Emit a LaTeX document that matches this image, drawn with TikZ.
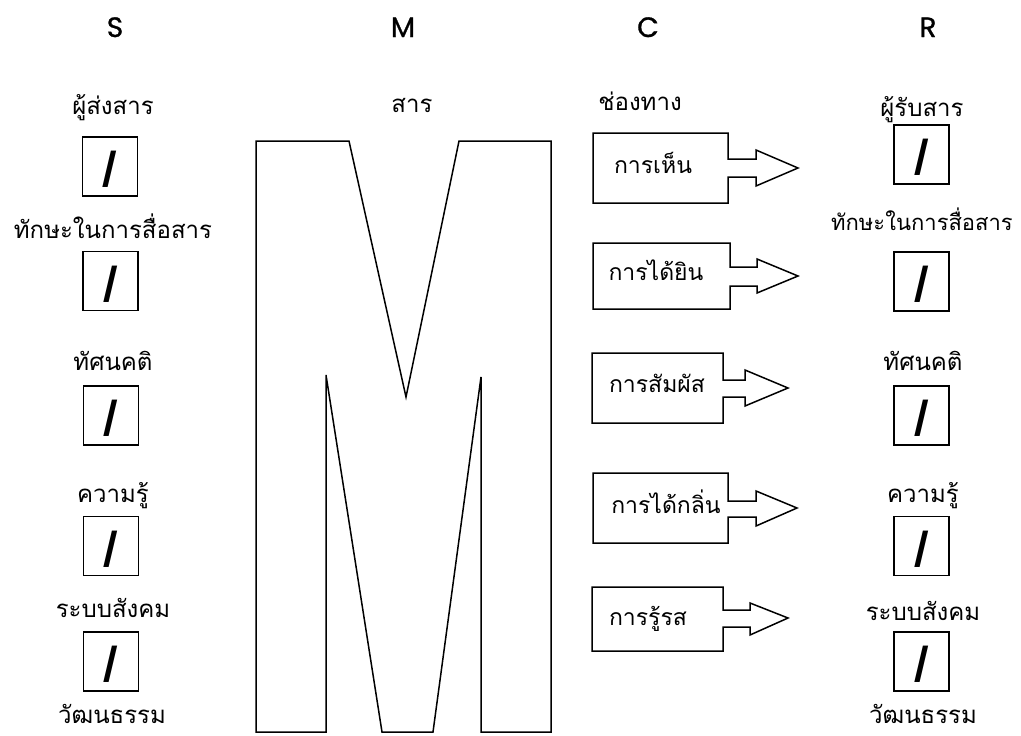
\documentclass[tikz,border=0pt]{standalone}
\usepackage{fontspec}
\newfontfamily\thaifont[Script=Thai]{Loma}
\newfontfamily\headfont{Poppins}
\newfontfamily\hdrfont{Poppins}[FakeBold=1]
\begin{document}
\begin{tikzpicture}[x=1pt,y=-1pt,
  shapeline/.style={draw=black,line width=1.5pt,line join=miter},
  hdr/.style={font=\hdrfont\fontsize{28}{28}\selectfont,anchor=base,inner sep=0pt},
  lbl/.style={font=\thaifont\fontsize{24}{24}\selectfont,anchor=base,inner sep=0pt},
  lblsmall/.style={font=\thaifont\fontsize{22}{22}\selectfont,anchor=base,inner sep=0pt},
  btxt/.style={font=\thaifont\fontsize{23}{23}\selectfont,anchor=base,inner sep=0pt},
  slashbox/.style={draw=black,line width=1.5pt,minimum width=55pt,minimum height=59pt,inner sep=0pt},
  slash/.style={font=\headfont\bfseries\fontsize{32}{32}\selectfont,inner sep=0pt}]
\useasboundingbox (0,0) rectangle (1021,736);

% headers
\node[hdr] (hS) at (115,37) {S};
\node[hdr] (hM) at (403,37) {M};
\node[hdr] (hC) at (648,37) {C};
\node[hdr] (hR) at (928,37) {R};

% M shape
\draw[shapeline] (256,141) -- (349,141) -- (406,397) -- (459,141) -- (551,141) -- (551,732)
  -- (481,732) -- (481,377) -- (433,732) -- (382,732) -- (326,375) -- (326,732) -- (256,732) -- cycle;
\node[lbl] (lM) at (412,112) {สาร};
\node[lbl] (lC) at (640,110) {ช่องทาง};

% left column
\node[lbl] (sl1) at (113,114) {ผู้ส่งสาร};
\node[slashbox] (sb1) at (110,166.5) {};
\node[slash] at ([yshift=-3pt]sb1.center) {/};
\node[lbl] (sl2) at (113,238) {ทักษะในการสื่อสาร};
\node[slashbox] (sb2) at (110.5,281) {};
\node[slash] at ([yshift=-3pt]sb2.center) {/};
\node[lbl] (sl3) at (113,370) {ทัศนคติ};
\node[slashbox] (sb3) at (111,415.5) {};
\node[slash] at ([yshift=-3pt]sb3.center) {/};
\node[lbl] (sl4) at (113,502) {ความรู้};
\node[slashbox] (sb4) at (111,546) {};
\node[slash] at ([yshift=-3pt]sb4.center) {/};
\node[lbl] (sl5) at (113,617) {ระบบสังคม};
\node[slashbox] (sb5) at (111,661.5) {};
\node[slash] at ([yshift=-3pt]sb5.center) {/};
\node[lbl] (sl6) at (112,723) {วัฒนธรรม};

% right column
\node[lbl] (rl1) at (922,116) {ผู้รับสาร};
\node[slashbox] (rb1) at (921.5,154.5) {};
\node[slash] at ([yshift=-3pt]rb1.center) {/};
\node[lblsmall] (rl2) at (922,230) {ทักษะในการสื่อสาร};
\node[slashbox] (rb2) at (921.5,281.5) {};
\node[slash] at ([yshift=-3pt]rb2.center) {/};
\node[lbl] (rl3) at (923,370) {ทัศนคติ};
\node[slashbox] (rb3) at (921.5,415.5) {};
\node[slash] at ([yshift=-3pt]rb3.center) {/};
\node[lbl] (rl4) at (923,502) {ความรู้};
\node[slashbox] (rb4) at (921.5,546) {};
\node[slash] at ([yshift=-3pt]rb4.center) {/};
\node[lbl] (rl5) at (923,620) {ระบบสังคม};
\node[slashbox] (rb5) at (921.5,661.5) {};
\node[slash] at ([yshift=-3pt]rb5.center) {/};
\node[lbl] (rl6) at (923,723) {วัฒนธรรม};

% channel arrows
\draw[shapeline] (593,133) -- (728,133) -- (728,159) -- (756,159) -- (756,150) -- (798,168)
  -- (756,186) -- (756,177) -- (728,177) -- (728,203) -- (593,203) -- cycle;
\node[btxt] (c1) at (653,173) {การเห็น};

\draw[shapeline] (593,243) -- (730,243) -- (730,267) -- (757,267) -- (757,259) -- (798,276)
  -- (757,293) -- (757,286) -- (730,286) -- (730,309) -- (593,309) -- cycle;
\node[btxt] (c2) at (656,280) {การได้ยิน};

\draw[shapeline] (592,353) -- (723,353) -- (723,380) -- (745,380) -- (745,370) -- (788,388)
  -- (745,406) -- (745,397) -- (723,397) -- (723,423) -- (592,423) -- cycle;
\node[btxt] (c3) at (657,392) {การสัมผัส};

\draw[shapeline] (593,473) -- (728,473) -- (728,501) -- (756,501) -- (756,491) -- (797,508)
  -- (756,526) -- (756,517) -- (728,517) -- (728,543) -- (593,543) -- cycle;
\node[btxt] (c4) at (666,513) {การได้กลิ่น};

\draw[shapeline] (592,587) -- (723,587) -- (723,610) -- (750,610) -- (750,603) -- (788,618)
  -- (750,635) -- (750,627) -- (723,627) -- (723,651) -- (592,651) -- cycle;
\node[btxt] (c5) at (648,625) {การรู้รส};
\end{tikzpicture}
\end{document}
